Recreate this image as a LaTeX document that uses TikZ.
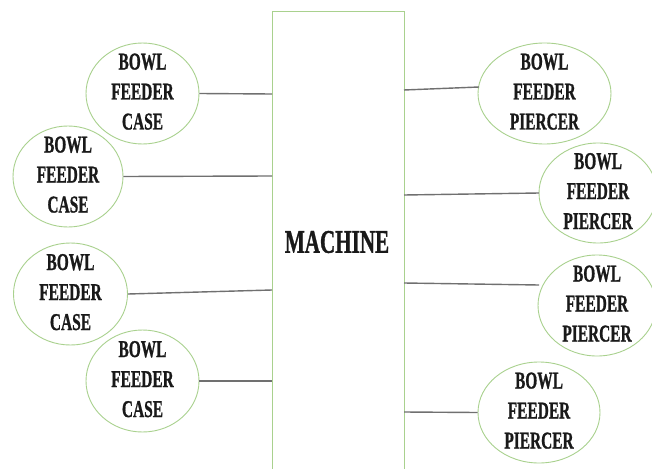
\documentclass[tikz,border=0pt]{standalone}
\usepackage{fontspec}
\usepackage{graphicx}
\usetikzlibrary{shapes.geometric}
\newfontfamily\heavyserif{Liberation Serif}[UprightFont=* Bold, FakeBold=1.2]
\newcommand{\tallstack}[1]{\scalebox{1}[1.5625]{\heavyserif\fontsize{15.4}{19.2}\selectfont\begin{tabular}{@{}c@{}}#1\end{tabular}}}
\definecolor{lgreen}{HTML}{A9D18E}
\definecolor{lgray}{HTML}{707070}
\tikzset{
  bowl/.style={ellipse, draw=lgreen, line width=0.9pt, inner sep=0pt},
  btext/.style={label={[text=black!90, inner sep=0pt]center:{\tallstack{#1}}}},
  link/.style={draw=lgray, line width=1.4pt},
}
\begin{document}
\begin{tikzpicture}[x=1pt,y=-1pt]
\clip (0,0) rectangle (652,468);
\useasboundingbox (0,0) rectangle (652,468);
\fill[white] (0,0) rectangle (652,468);
\node[draw=lgreen, line width=1pt, minimum width=132pt, minimum height=480pt, anchor=north west, inner sep=0pt] (machine) at (272,11) {};
\node[text=black!90, inner sep=0pt] (mtext) at (337,242) {\scalebox{1}[1.5625]{\heavyserif\fontsize{21.1}{24}\selectfont MACHINE}};
% left ellipses
\node[bowl, minimum width=113pt, minimum height=101pt, btext={BOWL\\FEEDER\\CASE}] (e1) at (142.5,93.5) {};
\node[bowl, minimum width=110pt, minimum height=101pt, btext={BOWL\\FEEDER\\CASE}] (e2) at (68,176.5) {};
\node[bowl, minimum width=114pt, minimum height=102pt, btext={BOWL\\FEEDER\\CASE}] (e3) at (70.5,294) {};
\node[bowl, minimum width=113pt, minimum height=102pt, btext={BOWL\\FEEDER\\CASE}] (e4) at (142.5,381) {};
% right ellipses
\node[bowl, minimum width=133pt, minimum height=101pt, btext={BOWL\\FEEDER\\PIERCER}] (r1) at (544.5,93.5) {};
\node[bowl, minimum width=118pt, minimum height=100pt, btext={BOWL\\FEEDER\\PIERCER}] (r2) at (598,193) {};
\node[bowl, minimum width=118pt, minimum height=101pt, btext={BOWL\\FEEDER\\PIERCER}] (r3) at (597,305.5) {};
\node[bowl, minimum width=122pt, minimum height=101pt, btext={BOWL\\FEEDER\\PIERCER}] (r4) at (539,412.5) {};
% attachment points on machine
\coordinate (m1) at (272,94);
\coordinate (m2) at (272,176);
\coordinate (m3) at (272,290);
\coordinate (m4) at (272,381);
\coordinate (n1) at (404,90);
\coordinate (n2) at (404,195);
\coordinate (n3) at (404,283);
\coordinate (n4) at (404,412);
\coordinate (s1) at (479,87);
\coordinate (s2) at (539,193);
\coordinate (s3) at (539,285);
\draw[link] (e1.east) -- (m1);
\draw[link] (e2.east) -- (m2);
\draw[link] (e3.east) -- (m3);
\draw[link] (e4.east) -- (m4);
\draw[link] (n1) -- (s1);
\draw[link] (n2) -- (s2);
\draw[link] (n3) -- (s3);
\draw[link] (n4) -- (r4.west);
\end{tikzpicture}
\end{document}
